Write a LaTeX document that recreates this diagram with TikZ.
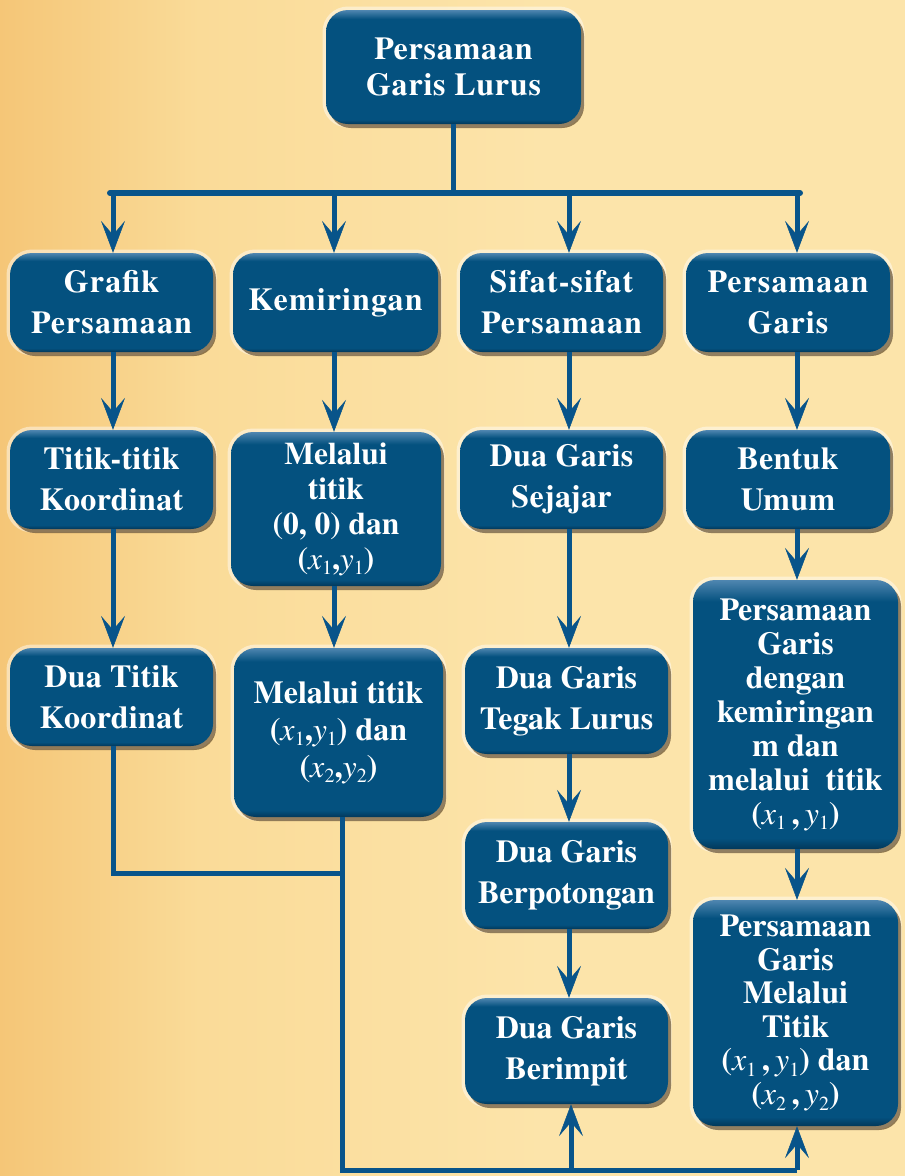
\documentclass[tikz,border=0pt]{standalone}
\usepackage{fontspec}
\setmainfont{texgyretermes}[Extension=.otf, UprightFont=*-regular, BoldFont=*-bold, ItalicFont=*-italic, BoldItalicFont=*-bolditalic]
\newfontfamily\boxfont{texgyretermes}[Extension=.otf, UprightFont=*-regular, BoldFont=*-bold, ItalicFont=*-italic, BoldItalicFont=*-bolditalic]
\usetikzlibrary{arrows.meta,shadows}
\definecolor{boxblue}{HTML}{04517F}
\definecolor{boxtop}{HTML}{4F86B0}
\definecolor{boxdark}{HTML}{02385A}
\definecolor{linecol}{HTML}{08548A}
\definecolor{bgL}{HTML}{F5C677}
\definecolor{bgM}{HTML}{FADB98}
\definecolor{bgR}{HTML}{FCE4AA}
\definecolor{shad}{HTML}{4A3418}
\pgfdeclarehorizontalshading{bgshade}{100bp}{color(0bp)=(bgL); color(25bp)=(bgL); color(36bp)=(bgM); color(55bp)=(bgR); color(100bp)=(bgR)}
\pgfdeclareverticalshading{boxshade}{100bp}{color(0bp)=(boxdark); color(25bp)=(boxdark); color(27bp)=(boxblue); color(71bp)=(boxblue); color(75bp)=(boxtop); color(100bp)=(boxtop)}
\newcommand\lowidx[1]{\raisebox{-0.18em}{\fontsize{20}{20}\selectfont\mdseries\upshape #1}}
\newcommand\pxy[2]{(\textnormal{\boxfont\itshape x}\lowidx{#1},\textnormal{\boxfont\itshape y}\lowidx{#2})}
\newcommand\pxys[2]{(\textnormal{\boxfont\itshape x}\lowidx{#1}\,,\,\textnormal{\boxfont\itshape y}\lowidx{#2})}
\tikzset{
  box/.style={rounded corners=22pt, text=white, align=center, inner sep=0pt,
    preaction={draw=white, draw opacity=0.45, line width=7pt},
    drop shadow={shadow xshift=3pt, shadow yshift=-4pt, fill=shad, opacity=0.6},
    shade, shading=boxshade,
    font=\boxfont\fontsize{32}{41}\selectfont\bfseries},
  track/.style={font=\boxfont\fontsize{32}{41}\selectfont\bfseries\addfontfeature{LetterSpace=3.5}},
  lightrack/.style={font=\boxfont\fontsize{32}{41}\selectfont\bfseries\addfontfeature{LetterSpace=1}},
  line/.style={draw=linecol, line width=5pt},
  arr/.style={line, -{Stealth[length=32pt,width=24pt,inset=14pt,line width=0.5pt]}},
}
\begin{document}
\begin{tikzpicture}[x=1pt,y=-1pt]
\useasboundingbox (0,0) rectangle (905,1176);
\shade[shading=bgshade] (0,0) rectangle (905,1176);

% column coordinates
\coordinate (c1) at (113,0);
\coordinate (c2) at (334,0);
\coordinate (c3) at (569,0);
\coordinate (c4) at (797,0);
\coordinate (bl) at (110,193);
\coordinate (br) at (800,193);
\coordinate (j1) at (342,873);
\coordinate (j2) at (342,1170);

% boxes
\node[box, minimum width=255pt, minimum height=114pt,
      font=\boxfont\fontsize{32}{36}\selectfont\bfseries\addfontfeature{LetterSpace=2.5}]
      (top) at (453.5,67) {Persamaan\\Garis Lurus};

\node[box, track, minimum width=203pt, minimum height=99pt] (grafik) at (111.5,302.5) {Grafik\\Persamaan};
\node[box, track, minimum width=205pt, minimum height=99pt] (kemir) at (335.5,302.5) {Kemiringan};
\node[box, track, minimum width=203pt, minimum height=99pt] (sifat) at (561.5,302.5) {Sifat-sifat\\Persamaan};
\node[box, track, minimum width=204pt, minimum height=99pt] (pgaris) at (788,302.5) {Persamaan\\Garis};

\node[box, lightrack, minimum width=203pt, minimum height=99pt] (titik) at (111.5,479.5) {Titik-titik\\Koordinat};
\node[box, minimum width=210pt, minimum height=154pt,
      font=\boxfont\fontsize{31.5}{35}\selectfont\bfseries] (mel00) at (336,509) {Melalui\\titik\\(0, 0) dan\\\pxy{1}{1}};
\node[box, lightrack, minimum width=203pt, minimum height=99pt] (sejajar) at (561.5,479.5) {Dua Garis\\Sejajar};
\node[box, lightrack, minimum width=204pt, minimum height=99pt] (bentuk) at (788,479.5) {Bentuk\\Umum};

\node[box, lightrack, minimum width=203pt, minimum height=98pt] (duatitik) at (111.5,697) {Dua Titik\\Koordinat};
\node[box, minimum width=209pt, minimum height=169pt,
      font=\boxfont\fontsize{32}{37}\selectfont\bfseries] (melx2) at (338.5,732.5) {Melalui titik\\\pxy{1}{1} dan\\\pxy{2}{2}};
\node[box, minimum width=203pt, minimum height=106pt] (tegak) at (566.5,701) {Dua Garis\\Tegak Lurus};
\node[box, minimum width=205pt, minimum height=269pt,
      font=\boxfont\fontsize{32}{34}\selectfont\bfseries] (pgkem) at (795.5,714.5) {Persamaan\\Garis\\dengan\\kemiringan\\m dan\\melalui\ \ titik\\\pxys{1}{1}};

\node[box, minimum width=203pt, minimum height=107pt] (berpot) at (566.5,875.5) {Dua Garis\\Berpotongan};
\node[box, minimum width=205pt, minimum height=226pt,
      font=\boxfont\fontsize{32}{33.5}\selectfont\bfseries] (pgmel) at (795.5,1013) {Persamaan\\Garis\\Melalui\\Titik\\\pxys{1}{1} dan\\\pxys{2}{2}};
\node[box, minimum width=203pt, minimum height=106pt] (berimpit) at (566.5,1051) {Dua Garis\\Berimpit};

% connectors from the top
\draw[line] (top.south) -- (top.south |- bl);
\draw[line, line width=6pt, line cap=round] (bl) -- (br);
\draw[arr] (c1 |- bl) -- (c1 |- grafik.north);
\draw[arr] (c2 |- bl) -- (c2 |- kemir.north);
\draw[arr] (c3 |- bl) -- (c3 |- sifat.north);
\draw[arr] (c4 |- bl) -- (c4 |- pgaris.north);

% column arrows
\draw[arr] (c1 |- grafik.south) -- (c1 |- titik.north);
\draw[arr] (c1 |- titik.south) -- (c1 |- duatitik.north);
\draw[arr] (c2 |- kemir.south) -- (c2 |- mel00.north);
\draw[arr] (c2 |- mel00.south) -- (c2 |- melx2.north);
\draw[arr] (c3 |- sifat.south) -- (c3 |- sejajar.north);
\draw[arr] (c3 |- sejajar.south) -- (c3 |- tegak.north);
\draw[arr] (c3 |- tegak.south) -- (c3 |- berpot.north);
\draw[arr] (c3 |- berpot.south) -- (c3 |- berimpit.north);
\draw[arr] (c4 |- pgaris.south) -- (c4 |- bentuk.north);
\draw[arr] (c4 |- bentuk.south) -- (c4 |- pgkem.north);
\draw[arr] (c4 |- pgkem.south) -- (c4 |- pgmel.north);

% bottom connections
\draw[line] (c1 |- duatitik.south) |- (j1);
\draw[line] (j1 |- melx2.south) -- (j2) -- (c4 |- j2);
\draw[arr] ([xshift=2pt]c3 |- j2) -- ([xshift=2pt]c3 |- berimpit.south);
\draw[arr] (c4 |- j2) -- (c4 |- pgmel.south);
\end{tikzpicture}
\end{document}
